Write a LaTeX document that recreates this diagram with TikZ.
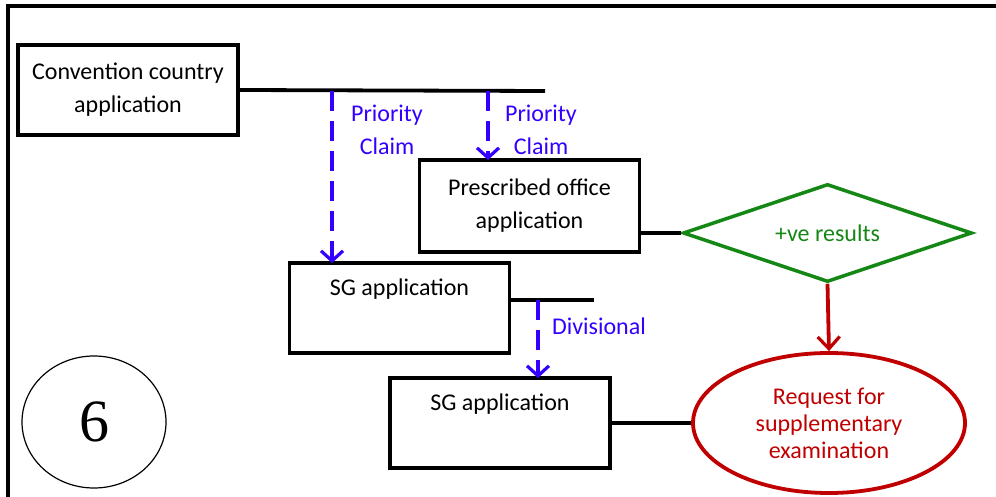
\documentclass[tikz,border=0pt]{standalone}
\usepackage{fontspec}
\setmainfont{Carlito}
\newfontfamily\sixfont{Liberation Serif}
\usetikzlibrary{shapes.geometric,arrows.meta,positioning}

\definecolor{claimblue}{RGB}{51,0,255}
\definecolor{okgreen}{RGB}{20,135,20}
\definecolor{reqred}{RGB}{192,0,0}

\begin{document}
\begin{tikzpicture}[x=1pt,y=-1pt,
	appbox/.style={draw,line width=3.8pt,rectangle,minimum width=220pt,minimum height=90pt,align=center,font=\fontsize{24}{33}\selectfont},
	link/.style={line width=3.8pt},
	claim/.style={draw=claimblue,line width=3.8pt,dash pattern=on 20pt off 10pt,-{Straight Barb[length=10pt,width=22pt,line width=3.2pt]}},
	claimtext/.style={text=claimblue,align=center,font=\fontsize{24}{33}\selectfont},
	result/.style={draw=okgreen,line width=3.5pt,diamond,aspect=3,inner sep=0pt,minimum width=289pt,minimum height=98pt,text=okgreen,font=\fontsize{24}{27}\selectfont},
	request/.style={draw=reqred,line width=3.8pt,ellipse,minimum width=272pt,minimum height=140pt,inner sep=0pt,align=center,text=reqred,font=\fontsize{24}{27}\selectfont}]
		\useasboundingbox (0,0) rectangle (996,497);
		\draw[line width=3.8pt] (8,497) -- (8,6) -- (996,6);
		
		\node[appbox] (conv) at (128,90) {Convention country\\application};
		\node[appbox,minimum height=92pt] (pres) at (529.5,206) {Prescribed office\\application};
		\node[appbox] (sga) at (399.5,308) {SG application\\[8pt]\mbox{}};
		\node[appbox] (sgb) at (500,423) {SG application\\[8pt]\mbox{}};
		\node[result] (res) at (827.5,233) {+ve results};
		\node[request] (req) at (829,423) {Request for\\supplementary\\examination};
		\node[draw,line width=1.2pt,ellipse,minimum width=144pt,minimum height=132pt,font=\sixfont\fontsize{60}{60}\selectfont] (six) at (94,422) {6};
		
		\coordinate (convend) at (545,91);
		\coordinate (sgaend) at (594,300);
		\draw[link] (conv.east) -- (convend);
		\draw[link] (sga.east |- sgaend) -- (sgaend);
		\draw[link] (res.west -| pres.east) -- (res.west);
		\draw[link] (sgb.east) -- (req.west -| sgb.east) -- (req.west);
		
		\draw[claim] (332,91) -- (332,263);
		\draw[claim] (488,91) -- (488,160);
		\draw[claim] (538,300) -- (538,378);
		\node[claimtext] (pc1) at (387,130) {Priority\\Claim};
		\node[claimtext] (pc2) at (541,130) {Priority\\Claim};
		\node[claimtext] (div) at (599,326) {Divisional};
		
		\draw[reqred,line width=3.8pt,-{Straight Barb[length=12pt,width=22pt,line width=3.2pt]}] (res.south) -- (req.north);
	\end{tikzpicture}
\end{document}
